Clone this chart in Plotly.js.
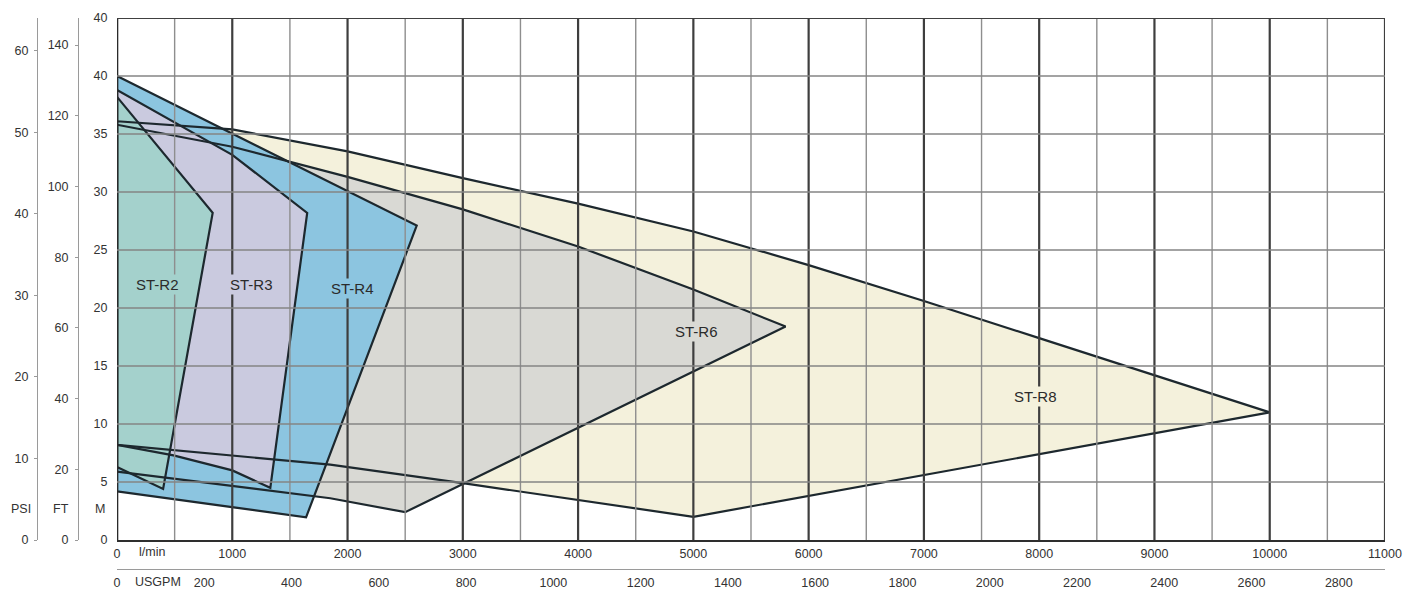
<!DOCTYPE html>
<html><head><meta charset="utf-8">
<script src="https://cdn.plot.ly/plotly-3.0.1.min.js"></script>
<style>html,body{margin:0;padding:0;background:#fff}#chart{width:1428px;height:596px}</style>
</head><body><div id="chart"></div>
<script>
// ---- data (flow in l/min, head in m) ----
const seriesNames = ['ST-R2', 'ST-R3', 'ST-R4', 'ST-R6', 'ST-R8'];
const r2Flow = [0, 830, 400, 0, 0];
const r2Head = [38.2, 28.2, 4.4, 6.3, 38.2];
const r3Flow = [0, 1000, 1650, 1330, 1000, 490, 0, 0];
const r3Head = [38.8, 33.2, 28.2, 4.5, 6.0, 7.3, 8.2, 38.8];
const r4Flow = [0, 2600, 1640, 0, 0];
const r4Head = [40.0, 27.1, 1.95, 4.2, 40.0];
const r6Flow = [0, 1000, 2000, 3000, 4000, 5000, 5800, 2500, 1850, 0, 0];
const r6Head = [35.8, 33.9, 31.3, 28.5, 25.3, 21.6, 18.4, 2.4, 3.6, 5.9, 35.8];
const r8Flow = [0, 1000, 2000, 3000, 4000, 5000, 6000, 7000, 8000, 9000, 10000, 5000, 3000, 1850, 0, 0];
const r8Head = [36.1, 35.4, 33.5, 31.2, 29.0, 26.6, 23.7, 20.6, 17.4, 14.2, 11.0, 2.0, 4.9, 6.5, 8.2, 36.1];
const labelFlow = [347, 1171, 2039, 5031, 7965];
const labelHead = [22.0, 22.0, 21.7, 18.0, 12.4];

const flowTicks = [0, 1000, 2000, 3000, 4000, 5000, 6000, 7000, 8000, 9000, 10000, 11000];
const headTicks = [0, 5, 10, 15, 20, 25, 30, 35, 40, 45];
const headTickText = ['0', '5', '10', '15', '20', '25', '30', '35', '40', '40'];
const ftTicks = [0, 20, 40, 60, 80, 100, 120, 140];
const psiTicks = [0, 10, 20, 30, 40, 50, 60];
const usgpmTicks = [0, 200, 400, 600, 800, 1000, 1200, 1400, 1600, 1800, 2000, 2200, 2400, 2600, 2800];

// unit conversions
const LPM_PER_USGPM = 3.78541, M_PER_FT = 0.3048, M_PER_PSI = 0.70307;
const FLOW_MAX = 11000, HEAD_MAX = 45;

const fills = {'ST-R2':'#a4d1cc','ST-R3':'#cacadf','ST-R4':'#8cc5e0','ST-R6':'#d9d9d4','ST-R8':'#f4f1dc'};
const polys = {
  'ST-R2':[r2Flow, r2Head], 'ST-R3':[r3Flow, r3Head], 'ST-R4':[r4Flow, r4Head],
  'ST-R6':[r6Flow, r6Head], 'ST-R8':[r8Flow, r8Head]
};
const drawOrder = ['ST-R8', 'ST-R6', 'ST-R4', 'ST-R3', 'ST-R2'];

const traces = [];
drawOrder.forEach(n => traces.push({
  type:'scatter', mode:'lines', x:polys[n][0], y:polys[n][1], fill:'toself',
  fillcolor:fills[n], line:{width:0, color:fills[n]}, hoverinfo:'skip', name:n
}));
drawOrder.forEach(n => traces.push({
  type:'scatter', mode:'lines', x:polys[n][0], y:polys[n][1],
  line:{width:2.2, color:'#1d282e'}, hoverinfo:'skip', name:n + ' outline'
}));
// register secondary axes
traces.push({type:'scatter', mode:'markers', x:[], y:[], xaxis:'x', yaxis:'y2', hoverinfo:'skip'});
traces.push({type:'scatter', mode:'markers', x:[], y:[], xaxis:'x', yaxis:'y3', hoverinfo:'skip'});
traces.push({type:'scatter', mode:'markers', x:[], y:[], xaxis:'x2', yaxis:'y', hoverinfo:'skip'});

// grid as shapes above fills
const shapes = [];
const gridFlow = [];
flowTicks.forEach((t, i) => { gridFlow.push(t); if (i < flowTicks.length - 1) gridFlow.push((t + flowTicks[i+1]) / 2); });
gridFlow.forEach(v => {
  const major = flowTicks.indexOf(v) >= 0;
  shapes.push({type:'line', xref:'x', yref:'y', x0:v, x1:v, y0:0, y1:HEAD_MAX, layer:'above',
    line:{color: v === 0 ? '#2a2a2a' : (major ? '#3e3e3e' : '#8e8e8e'), width: v === 0 ? 2.6 : (major ? 2.2 : 1.4)}});
});
headTicks.slice(1).forEach(h => {
  const top = h === HEAD_MAX;
  shapes.push({type:'line', xref:'x', yref:'y', x0:0, x1:FLOW_MAX, y0:h, y1:h, layer:'above',
    line:{color: top ? '#404040' : '#858585', width: top ? 2.2 : 1.6}});
});

const W = 1428, H = 596;
const px = v => v / W, py = v => 1 - v / H;
const annotations = seriesNames.map((n, i) => ({
  x:labelFlow[i], y:labelHead[i], xref:'x', yref:'y', text:n, showarrow:false,
  font:{size:15, color:'#2b2b2b', family:'Liberation Sans, Arial, sans-serif'},
  bgcolor:fills[n], borderpad:1
}));
[['PSI', 21, 509], ['FT', 61, 509], ['M', 100, 509], ['l/min', 152, 552], ['USGPM', 158, 582]].forEach(a => {
  annotations.push({x:px(a[1]), y:py(a[2]), xref:'paper', yref:'paper', text:a[0], showarrow:false,
    font:{size:12.5, color:'#333'}, xanchor:'center', yanchor:'middle'});
});

const layout = {
  width:W, height:H, margin:{l:0, r:0, t:0, b:0}, paper_bgcolor:'#fff', plot_bgcolor:'#fff',
  showlegend:false, hovermode:false,
  font:{family:'Liberation Sans, Arial, sans-serif', size:12.5, color:'#333'},
  xaxis:{domain:[px(117), px(1385)], range:[0, FLOW_MAX], tickvals:flowTicks, ticktext:flowTicks.map(String),
    showgrid:false, zeroline:false, showline:true, linecolor:'#2e2e2e', linewidth:2.2, ticks:'outside', ticklen:1,
    tickcolor:'rgba(0,0,0,0)', fixedrange:true},
  xaxis2:{overlaying:'x', anchor:'free', position:(H - 569) / H, side:'bottom', range:[0, FLOW_MAX / LPM_PER_USGPM],
    tickvals:usgpmTicks, showgrid:false, zeroline:false, showline:true, linecolor:'#9a9a9a', linewidth:1.2,
    ticks:'outside', ticklen:2, tickcolor:'rgba(0,0,0,0)', fixedrange:true},
  yaxis:{domain:[py(540), py(18)], range:[0, HEAD_MAX], tickvals:headTicks, ticktext:headTickText,
    showgrid:false, zeroline:false, showline:false, ticks:'outside', ticklen:6, tickcolor:'rgba(0,0,0,0)', fixedrange:true},
  yaxis2:{overlaying:'y', anchor:'free', position:px(78), side:'left', range:[0, HEAD_MAX / M_PER_FT], tickvals:ftTicks,
    showgrid:false, zeroline:false, showline:true, linecolor:'#9a9a9a', linewidth:1.4, ticks:'outside', ticklen:3,
    tickcolor:'#9a9a9a', ticklabelstandoff:4, fixedrange:true},
  yaxis3:{overlaying:'y', anchor:'free', position:px(37), side:'left', range:[0, HEAD_MAX / M_PER_PSI], tickvals:psiTicks,
    showgrid:false, zeroline:false, showline:true, linecolor:'#9a9a9a', linewidth:1.4, ticks:'outside', ticklen:3,
    tickcolor:'#9a9a9a', ticklabelstandoff:3, fixedrange:true},
  shapes:shapes, annotations:annotations
};
Plotly.newPlot('chart', traces, layout, {displayModeBar:false, staticPlot:true});
</script></body></html>
